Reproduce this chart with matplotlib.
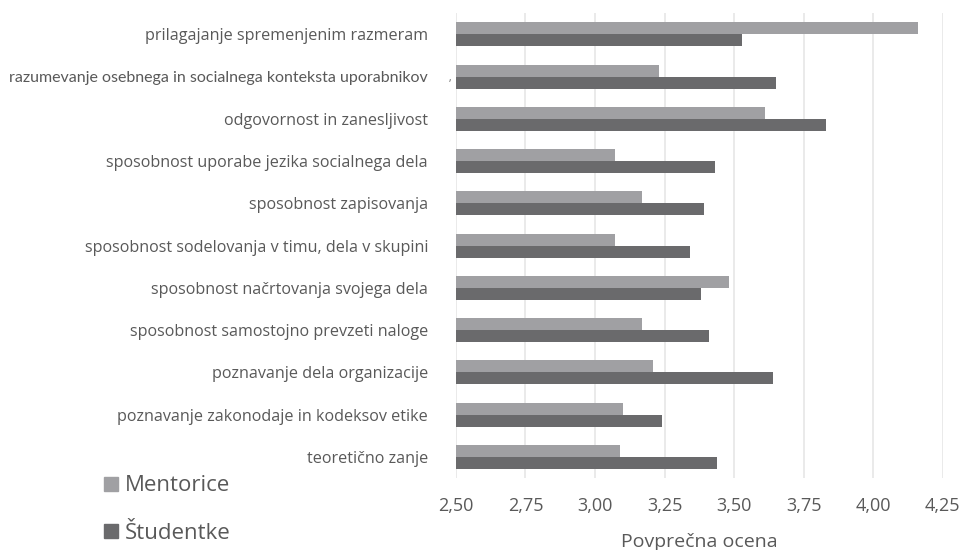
import matplotlib
matplotlib.use("Agg")
import matplotlib.pyplot as plt
import matplotlib.ticker as mticker
from matplotlib.patches import Patch
import numpy as np

categories = [
    "prilagajanje spremenjenim razmeram",
    "razumevanje osebnega in socialnega konteksta uporabnikov",
    "odgovornost in zanesljivost",
    "sposobnost uporabe jezika socialnega dela",
    "sposobnost zapisovanja",
    "sposobnost sodelovanja v timu, dela v skupini",
    "sposobnost načrtovanja svojega dela",
    "sposobnost samostojno prevzeti naloge",
    "poznavanje dela organizacije",
    "poznavanje zakonodaje in kodeksov etike",
    "teoretično zanje",
]
mentorice = [4.16, 3.23, 3.61, 3.07, 3.17, 3.07, 3.48, 3.17, 3.21, 3.10, 3.09]
studentke = [3.53, 3.65, 3.83, 3.43, 3.39, 3.34, 3.38, 3.41, 3.64, 3.24, 3.44]
series_names = ["Mentorice", "Študentke"]
xticks = [2.50, 2.75, 3.00, 3.25, 3.50, 3.75, 4.00, 4.25]

c_ment = "#a0a0a3"
c_stud = "#6a6a6c"
txt = "#595959"

plt.rcParams["font.family"] = ["Open Sans", "DejaVu Sans"]

fig = plt.figure(figsize=(9.7, 5.5), dpi=100)
ax = fig.add_axes([0.470, 0.131, 0.502, 0.845])

n = len(categories)
y = np.arange(n)[::-1]
h = 0.284
ax.barh(y + h / 2, mentorice, height=h, left=0, color=c_ment, zorder=3)
ax.barh(y - h / 2, studentke, height=h, left=0, color=c_stud, zorder=3)

ax.set_xlim(2.5, 4.25)
ax.set_ylim(-0.5, n - 0.5)
ax.set_xticks(xticks)
ax.xaxis.set_major_formatter(mticker.FuncFormatter(lambda v, _: f"{v:.2f}".replace(".", ",")))
ax.grid(axis="x", color="#e6e6e6", linewidth=1.2, zorder=0)
for s in ax.spines.values():
    s.set_visible(False)
ax.tick_params(axis="both", length=0, colors=txt)
ax.tick_params(axis="x", labelsize=13, pad=14)
ax.set_yticks(y)
ax.set_yticklabels(categories, fontsize=11.6, color=txt)
for lbl in ax.get_yticklabels():
    if lbl.get_text().startswith("razumevanje"):
        lbl.set_family(["Lato", "DejaVu Sans"])
        lbl.set_fontsize(11.5)
ax.tick_params(axis="y", pad=20)
ax.set_xlabel("Povprečna ocena", fontsize=14, color=txt, labelpad=13)

# small stray comma next to the second label, as in the source
ax.text(-0.012, y[1] - 0.05, ",", transform=ax.get_yaxis_transform(),
        fontsize=7, color=txt, ha="center", va="center")

handles = [Patch(color=c_ment), Patch(color=c_stud)]
leg = fig.legend(handles, series_names, loc="upper left", bbox_to_anchor=(0.087, 0.172),
                 frameon=False, fontsize=16, handlelength=0.6, handleheight=0.6,
                 handletextpad=0.3, labelspacing=1.2)
for t in leg.get_texts():
    t.set_color(txt)

fig.savefig("out.png", dpi=100)
